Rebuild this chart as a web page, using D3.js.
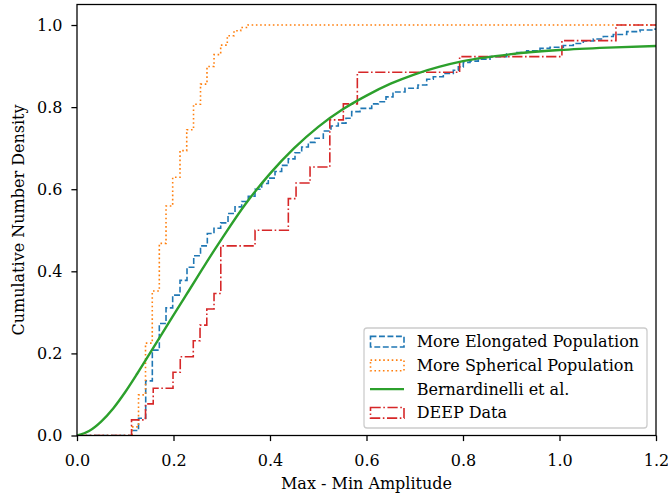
<!DOCTYPE html>
<html><head><meta charset="utf-8">
<script src="https://cdn.jsdelivr.net/npm/d3@7"></script>
<style>body{margin:0;background:#fff}svg{display:block;font-family:"DejaVu Serif",serif}</style>
</head><body><svg id="c" width="668" height="493"></svg>
<script>
// ---- data ----
const xTicks = [0.0, 0.2, 0.4, 0.6, 0.8, 1.0, 1.2];
const yTicks = [0.0, 0.2, 0.4, 0.6, 0.8, 1.0];
const seriesNames = ["More Elongated Population", "More Spherical Population", "Bernardinelli et al.", "DEEP Data"];

// More Elongated Population: step positions and cumulative levels
const elongX = [0.114,0.1275,0.1424,0.1561,0.1706,0.1845,0.1983,0.2135,0.228,0.2419,0.256,0.2701,0.2839,0.2978,0.313,0.3275,0.3413,0.355,0.3689,0.3828,0.3965,0.4104,0.4242,0.4379,0.4518,0.4657,0.4794,0.4933,0.5105,0.5264,0.5415,0.5575,0.5693,0.5865,0.6108,0.6245,0.6404,0.6549,0.6798,0.7067,0.7248,0.7384,0.7592,0.7799,0.7903,0.8006,0.8145,0.8317,0.856,0.8906,0.9113,0.932,0.9596,0.9803,1.0079,1.0286,1.0493,1.0701,1.0908,1.1115,1.1393,1.1668,1.1944];
const elongY = [0.012,0.042,0.133,0.208,0.273,0.311,0.342,0.378,0.41,0.438,0.462,0.492,0.505,0.518,0.541,0.557,0.57,0.583,0.6,0.614,0.627,0.643,0.658,0.674,0.689,0.703,0.714,0.724,0.742,0.754,0.761,0.773,0.789,0.797,0.808,0.813,0.825,0.837,0.846,0.854,0.868,0.874,0.882,0.89,0.898,0.909,0.912,0.917,0.923,0.929,0.933,0.937,0.943,0.946,0.95,0.955,0.961,0.966,0.972,0.977,0.984,0.988,0.99];

// More Spherical Population
const sphX = [0.114,0.1275,0.142,0.156,0.1706,0.1845,0.1983,0.2135,0.2274,0.2415,0.256,0.2694,0.284,0.2978,0.3115,0.3254,0.3393,0.3544];
const sphY = [0.021,0.099,0.225,0.352,0.468,0.559,0.629,0.694,0.745,0.807,0.856,0.899,0.928,0.951,0.974,0.986,0.994,1.0];

// Bernardinelli et al. (smooth curve samples)
const bernX = [0,0.025,0.05,0.075,0.1,0.125,0.15,0.175,0.2,0.225,0.25,0.275,0.3,0.35,0.4,0.45,0.5,0.55,0.6,0.65,0.7,0.75,0.8,0.9,1.0,1.1,1.2];
const bernY = [0,0.011,0.034,0.066,0.106,0.151,0.198,0.246,0.293,0.34,0.387,0.434,0.479,0.565,0.638,0.7,0.752,0.794,0.828,0.857,0.88,0.898,0.912,0.929,0.939,0.945,0.949];

// DEEP Data
const deepX = [0.113,0.142,0.158,0.199,0.214,0.241,0.255,0.269,0.284,0.298,0.369,0.438,0.454,0.483,0.524,0.552,0.581,0.793,1.005,1.117];
const deepY = [0.038,0.077,0.115,0.154,0.192,0.231,0.269,0.308,0.346,0.462,0.5,0.577,0.615,0.654,0.769,0.808,0.885,0.923,0.962,1.0];

const colors = ["#1f77b4", "#ff7f0e", "#2ca02c", "#d62728"];

// ---- layout ----
const L = 77, R = 656, T = 4.5, B = 435.5;
const svg = d3.select("#c");
const x = d3.scaleLinear().domain([0, 1.2]).range([L, R]);
const y = d3.scaleLinear().domain([0, 1.05]).range([B, T]);
const fs = 16;
const pt = 1.6;

svg.append("defs").append("clipPath").attr("id", "clip")
  .append("rect").attr("x", L).attr("y", T).attr("width", R - L).attr("height", B - T);

const plot = svg.append("g").attr("clip-path", "url(#clip)");

function stepPts(xs, ys) {
  const pts = [[0, 0]];
  xs.forEach((v, i) => pts.push([v, ys[i]]));
  pts.push([1.25, ys[ys.length - 1]]);
  return pts;
}
const stepLine = d3.line().x(d => x(d[0])).y(d => y(d[1])).curve(d3.curveStepAfter);
const lw = 1.0 * pt;
const dashes = [
  [3.7 * lw, 1.6 * lw].join(","),
  [1 * lw, 1.65 * lw].join(","),
  null,
  [6.4 * lw, 1.6 * lw, 1 * lw, 1.6 * lw].join(",")
];

plot.append("path").datum(stepPts(elongX, elongY)).attr("d", stepLine)
  .attr("fill", "none").attr("stroke", colors[0]).attr("stroke-width", lw).attr("stroke-dasharray", dashes[0]);
plot.append("path").datum(stepPts(sphX, sphY)).attr("d", stepLine)
  .attr("fill", "none").attr("stroke", colors[1]).attr("stroke-width", lw).attr("stroke-dasharray", dashes[1]);
plot.append("path").datum(stepPts(deepX, deepY)).attr("d", stepLine)
  .attr("fill", "none").attr("stroke", colors[3]).attr("stroke-width", lw).attr("stroke-dasharray", dashes[3]);

const smooth = d3.line().x((d, i) => x(bernX[i])).y(d => y(d)).curve(d3.curveMonotoneX);
plot.append("path").datum(bernY).attr("d", smooth)
  .attr("fill", "none").attr("stroke", colors[2]).attr("stroke-width", 1.5 * pt);

// ---- axes ----
const fmt = d3.format(".1f");
const xAxis = svg.append("g").attr("transform", `translate(0,${B})`)
  .call(d3.axisBottom(x).tickValues(xTicks).tickFormat(fmt).tickSize(5.6).tickPadding(14));
const yAxis = svg.append("g").attr("transform", `translate(${L},0)`)
  .call(d3.axisLeft(y).tickValues(yTicks).tickFormat(fmt).tickSize(5.6).tickPadding(9));
[xAxis, yAxis].forEach(g => {
  g.select(".domain").remove();
  g.selectAll(".tick line").attr("stroke", "#000").attr("stroke-width", 0.8 * pt);
  g.selectAll(".tick text").attr("font-family", "DejaVu Serif").attr("font-size", fs).attr("fill", "#000");
});

svg.append("rect").attr("x", L).attr("y", T).attr("width", R - L).attr("height", B - T)
  .attr("fill", "none").attr("stroke", "#000").attr("stroke-width", 0.8 * pt);

svg.append("text").attr("x", (L + R) / 2).attr("y", 489).attr("text-anchor", "middle")
  .attr("font-size", fs).text("Max - Min Amplitude");
svg.append("text").attr("transform", `translate(24,${(T + B) / 2}) rotate(-90)`).attr("text-anchor", "middle")
  .attr("font-size", fs).text("Cumulative Number Density");

// ---- legend ----
const lg = svg.append("g");
lg.append("rect").attr("x", 364).attr("y", 328).attr("width", 283).attr("height", 100)
  .attr("rx", 3).attr("fill", "#fff").attr("fill-opacity", 0.8).attr("stroke", "#cccccc").attr("stroke-width", 0.8 * pt);
const rowY = [341.7, 365.4, 389.1, 412.8];
seriesNames.forEach((name, i) => {
  const cy = rowY[i];
  if (i === 2) {
    lg.append("line").attr("x1", 370).attr("x2", 404).attr("y1", cy).attr("y2", cy)
      .attr("stroke", colors[i]).attr("stroke-width", 1.5 * pt);
  } else {
    lg.append("rect").attr("x", 370.5).attr("y", cy - 5.3).attr("width", 33.5).attr("height", 10.6)
      .attr("fill", "none").attr("stroke", colors[i]).attr("stroke-width", lw).attr("stroke-dasharray", dashes[i]);
  }
  lg.append("text").attr("x", 416.7).attr("y", cy + 5.6).attr("font-size", fs).text(name);
});
</script></body></html>
